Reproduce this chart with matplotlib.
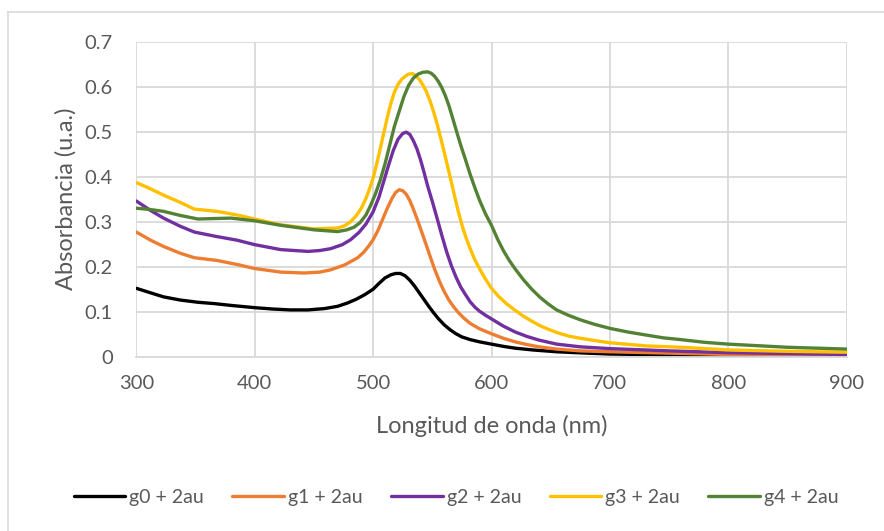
import matplotlib.pyplot as plt
from matplotlib.lines import Line2D

plt.rcParams['font.family'] = ['Lato', 'DejaVu Sans']

wl_g0 = [300, 312, 323, 337, 352, 366, 380, 400, 415, 430, 445, 459, 470, 478, 486,
         493, 500, 505, 510, 515, 519, 523, 527, 531, 535, 539, 543, 547, 551, 555,
         560, 565, 570, 575, 582, 590, 600, 610, 620, 635, 655, 680, 700, 750, 800, 900]
abs_g0 = [0.152, 0.142, 0.133, 0.126, 0.121, 0.118, 0.114, 0.109, 0.106, 0.104, 0.104,
          0.107, 0.112, 0.119, 0.128, 0.138, 0.150, 0.163, 0.175, 0.182, 0.185, 0.185,
          0.180, 0.170, 0.157, 0.142, 0.127, 0.112, 0.098, 0.085, 0.071, 0.060, 0.051,
          0.044, 0.038, 0.033, 0.028, 0.023, 0.019, 0.015, 0.011, 0.008, 0.006, 0.004,
          0.003, 0.001]

wl_g1 = [300, 312, 323, 337, 349, 368, 385, 400, 422, 442, 455, 464, 476, 487, 492,
         496, 500, 504, 508, 512, 516, 519, 522, 525, 528, 531, 534, 537, 540, 544,
         548, 552, 556, 560, 564, 568, 572, 577, 582, 590, 600, 610, 620, 630, 640,
         655, 675, 700, 750, 800, 900]
abs_g1 = [0.277, 0.259, 0.245, 0.230, 0.220, 0.214, 0.205, 0.196, 0.188, 0.186, 0.188,
          0.193, 0.204, 0.220, 0.232, 0.245, 0.260, 0.280, 0.305, 0.330, 0.352, 0.365,
          0.371, 0.369, 0.361, 0.347, 0.328, 0.307, 0.285, 0.255, 0.224, 0.194, 0.168,
          0.145, 0.126, 0.111, 0.098, 0.085, 0.074, 0.062, 0.051, 0.041, 0.033, 0.027,
          0.022, 0.017, 0.013, 0.011, 0.008, 0.005, 0.003]

wl_g2 = [300, 312, 323, 337, 349, 368, 385, 400, 422, 445, 455, 464, 474, 481, 488,
         494, 500, 505, 509, 513, 517, 521, 525, 528, 531, 534, 537, 540, 543, 546,
         550, 554, 558, 562, 566, 570, 574, 578, 582, 586, 590, 595, 600, 610, 620,
         630, 640, 655, 675, 700, 750, 800, 900]
abs_g2 = [0.346, 0.325, 0.308, 0.290, 0.277, 0.267, 0.259, 0.249, 0.238, 0.234, 0.236,
          0.240, 0.249, 0.260, 0.276, 0.295, 0.322, 0.355, 0.390, 0.425, 0.458, 0.483,
          0.496, 0.499, 0.494, 0.480, 0.462, 0.438, 0.410, 0.380, 0.345, 0.308, 0.270,
          0.234, 0.203, 0.177, 0.155, 0.138, 0.122, 0.110, 0.101, 0.092, 0.084, 0.068,
          0.055, 0.045, 0.037, 0.028, 0.022, 0.018, 0.013, 0.009, 0.005]

wl_g3 = [300, 312, 323, 337, 349, 368, 385, 400, 422, 450, 470, 476, 481, 486, 490,
         494, 497, 500, 503, 506, 509, 512, 515, 518, 521, 524, 527, 530, 533, 536,
         539, 542, 545, 548, 551, 554, 557, 560, 563, 566, 569, 572, 575, 578, 582,
         586, 590, 595, 600, 606, 613, 620, 627, 634, 641, 648, 656, 665, 675, 687,
         700, 731, 760, 800, 850, 900]
abs_g3 = [0.387, 0.373, 0.359, 0.343, 0.328, 0.323, 0.315, 0.306, 0.293, 0.284, 0.286,
          0.291, 0.300, 0.314, 0.330, 0.352, 0.373, 0.397, 0.428, 0.462, 0.497, 0.532,
          0.563, 0.588, 0.605, 0.616, 0.623, 0.628, 0.629, 0.625, 0.616, 0.604, 0.589,
          0.569, 0.545, 0.518, 0.487, 0.455, 0.422, 0.389, 0.355, 0.322, 0.293, 0.268,
          0.240, 0.215, 0.195, 0.172, 0.152, 0.134, 0.117, 0.103, 0.090, 0.079, 0.069,
          0.061, 0.053, 0.046, 0.041, 0.036, 0.031, 0.024, 0.021, 0.015, 0.012, 0.010]

wl_g4 = [300, 312, 323, 337, 352, 366, 380, 400, 422, 450, 470, 478, 484, 489, 494,
         498, 502, 506, 510, 514, 518, 522, 526, 530, 534, 538, 542, 546, 549, 552,
         555, 558, 561, 564, 567, 570, 574, 578, 582, 586, 590, 595, 600, 605, 610,
         615, 620, 627, 634, 641, 648, 655, 665, 675, 687, 700, 715, 731, 745, 760,
         780, 800, 850, 900]
abs_g4 = [0.330, 0.327, 0.323, 0.314, 0.306, 0.307, 0.308, 0.302, 0.292, 0.282, 0.278,
          0.282, 0.288, 0.298, 0.315, 0.337, 0.362, 0.392, 0.428, 0.470, 0.512, 0.545,
          0.578, 0.603, 0.619, 0.628, 0.632, 0.633, 0.630, 0.623, 0.612, 0.598, 0.580,
          0.558, 0.532, 0.505, 0.470, 0.438, 0.405, 0.375, 0.347, 0.317, 0.292, 0.262,
          0.236, 0.214, 0.195, 0.171, 0.150, 0.132, 0.117, 0.104, 0.092, 0.082, 0.072,
          0.063, 0.055, 0.048, 0.042, 0.038, 0.032, 0.028, 0.021, 0.017]

series = [
    ('g0 + 2au', wl_g0, abs_g0, '#000000'),
    ('g1 + 2au', wl_g1, abs_g1, '#ED7D31'),
    ('g2 + 2au', wl_g2, abs_g2, '#7030A0'),
    ('g3 + 2au', wl_g3, abs_g3, '#FFC000'),
    ('g4 + 2au', wl_g4, abs_g4, '#548235'),
]

fig = plt.figure(figsize=(8.84, 5.31), dpi=100)
ax = fig.add_axes([0.1542, 0.3282, 0.9578 - 0.1542, 0.9215 - 0.3282])

for nombre, x, y, color in series:
    ax.plot(x, y, color=color, lw=2.4, label=nombre,
            solid_capstyle='round', solid_joinstyle='round')

ax.set_xlim(300, 900)
ax.set_ylim(0, 0.7)
ax.set_xticks([300, 400, 500, 600, 700, 800, 900])
ax.set_yticks([0, 0.1, 0.2, 0.3, 0.4, 0.5, 0.6, 0.7])
ax.set_yticklabels(['0', '0.1', '0.2', '0.3', '0.4', '0.5', '0.6', '0.7'])
ax.grid(True, color='#d9d9d9', lw=1.3)
ax.set_axisbelow(True)
for s in ['top', 'right', 'left']:
    ax.spines[s].set_visible(False)
ax.spines['bottom'].set_color('#d9d9d9')
ax.spines['bottom'].set_linewidth(1.3)
ax.tick_params(length=0, labelsize=14.5, colors='#595959')
ax.tick_params(axis='x', pad=13)
ax.tick_params(axis='y', pad=17)

ax.set_xlabel('Longitud de onda (nm)', fontsize=17, color='#595959', labelpad=17)
ax.set_ylabel('Absorbancia (u.a.)', fontsize=17, color='#595959', labelpad=6)

fig.legend(loc='center', bbox_to_anchor=(0.516, 0.064), ncol=5, frameon=False,
           fontsize=14, handlelength=2.67, handletextpad=0.2, columnspacing=1.45,
           labelcolor='#595959')

# borde del área del gráfico
fig.add_artist(Line2D([8 / 884, 1], [1 - 12 / 531, 1 - 12 / 531], color='#d9d9d9', lw=1.2))
fig.add_artist(Line2D([8 / 884, 8 / 884], [0, 1 - 12 / 531], color='#d9d9d9', lw=1.2))

fig.savefig('out.png', dpi=100)
